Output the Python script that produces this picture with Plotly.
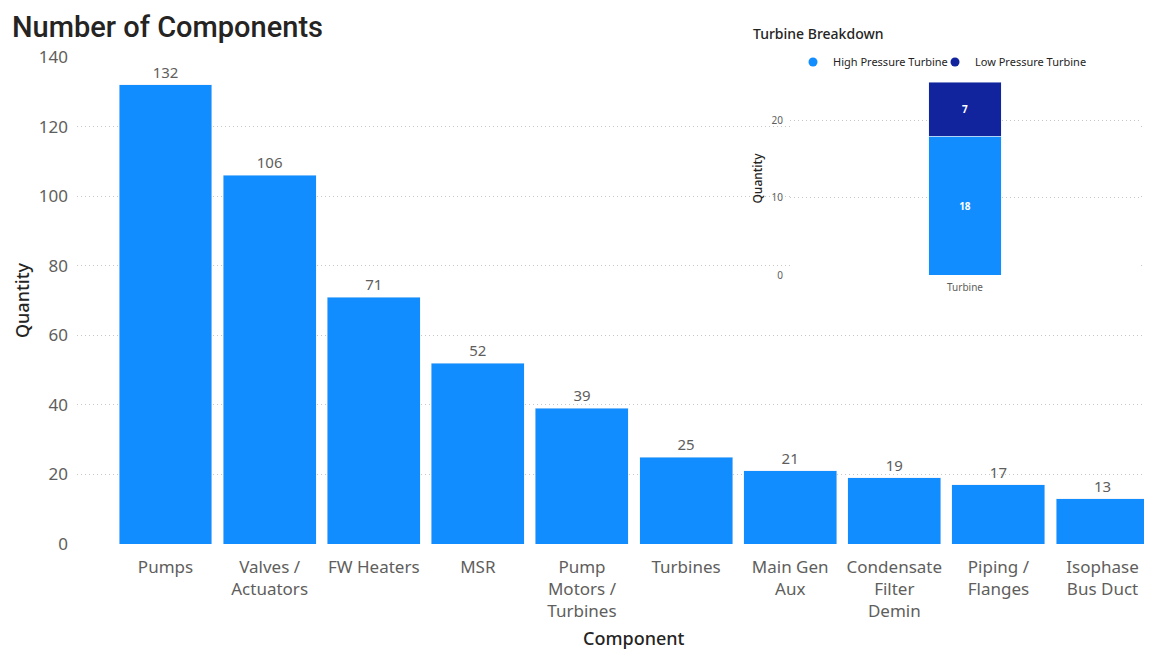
import plotly.graph_objects as go

categories = ["Pumps", "Valves /<br>Actuators", "FW Heaters", "MSR", "Pump<br>Motors /<br>Turbines",
              "Turbines", "Main Gen<br>Aux", "Condensate<br>Filter<br>Demin", "Piping /<br>Flanges", "Isophase<br>Bus Duct"]
quantities = [132, 106, 71, 52, 39, 25, 21, 19, 17, 13]

turbine_cat = ["Turbine"]
hp_turbine = [18]
lp_turbine = [7]

BLUE = "#118DFF"
DARK = "#12239E"
GREY = "#605E5C"
TXT = "#252423"

# page body has an 8px margin; work in reference-screen pixels and convert
OFF = 8
W, H = 1152 - OFF, 649 - OFF
def px_x(p): return (p - OFF) / W
def px_y(p): return (H - (p - OFF)) / H

fig = go.Figure()

fig.add_trace(go.Bar(
    x=categories, y=quantities, marker_color=BLUE, width=0.893,
    text=quantities, textposition="outside", cliponaxis=False,
    textfont=dict(size=15, color=GREY, family="Noto Sans"),
    showlegend=False, xaxis="x", yaxis="y", hoverinfo="skip"))

fig.add_trace(go.Bar(
    x=turbine_cat, y=hp_turbine, marker_color=BLUE, width=0.206, name="High Pressure Turbine",
    text=hp_turbine, textposition="inside", insidetextanchor="middle",
    textfont=dict(size=10, color="white", family="Noto Sans", weight="bold"),
    showlegend=False, xaxis="x2", yaxis="y2"))
fig.add_trace(go.Bar(
    x=turbine_cat, y=lp_turbine, marker_color=DARK, width=0.206, name="Low Pressure Turbine",
    text=lp_turbine, textposition="inside", insidetextanchor="middle",
    textfont=dict(size=10, color="white", family="Noto Sans", weight="bold"),
    showlegend=False, xaxis="x2", yaxis="y2"))

# legend entries with round markers (one legend each, to keep them tight)
for nm, col, lg in [("High Pressure Turbine", BLUE, "legend"), ("Low Pressure Turbine", DARK, "legend2")]:
    fig.add_trace(go.Scatter(x=[None], y=[None], mode="markers", name=nm, legend=lg,
                             marker=dict(color=col, size=9, symbol="circle"),
                             xaxis="x2", yaxis="y2", showlegend=True))

grid = dict(showgrid=True, gridcolor="#C8C6C4", griddash="1px,3px", gridwidth=1)
leg = dict(orientation="h", y=px_y(62), xanchor="left", yanchor="middle",
           font=dict(size=11, color=TXT), bgcolor="rgba(0,0,0,0)", itemwidth=30)

fig.update_layout(
    width=W, height=H,
    margin=dict(l=0, r=0, t=0, b=0),
    paper_bgcolor="white", plot_bgcolor="white",
    barmode="stack",
    font=dict(family="Noto Sans", color=GREY),
    xaxis=dict(domain=[px_x(77), 1.0], range=[-0.85, 9.475], showgrid=False, zeroline=False,
               showline=False, ticks="", tickfont=dict(size=17, color=GREY), ticklabelstandoff=11,
               tickangle=0, automargin=False),
    yaxis=dict(domain=[px_y(544), px_y(57)], range=[0, 140], dtick=20, zeroline=False,
               showline=False, tickfont=dict(size=17, color=GREY), ticklabelstandoff=8,
               title=dict(text="Quantity", font=dict(size=18, color=TXT, weight=500), standoff=4),
               automargin=False, **grid),
    xaxis2=dict(domain=[px_x(790), px_x(1140)], range=[-0.5, 0.5], anchor="y2", showgrid=False,
                zeroline=False, showline=False, ticks="", tickfont=dict(size=10, color=GREY),
                ticklabelstandoff=5, automargin=False),
    yaxis2=dict(domain=[px_y(275), px_y(82)], range=[0, 25], dtick=10, anchor="x2", zeroline=False,
                showline=False, tickfont=dict(size=10, color=GREY), ticklabelstandoff=6,
                title=dict(text="Quantity", font=dict(size=12, color=TXT, weight=500), standoff=6),
                automargin=False, **grid),
    legend=dict(x=px_x(793), **leg),
    legend2=dict(x=px_x(935), **leg),
    annotations=[
        dict(text="Number of Components", x=px_x(10), y=1.0, xref="paper", yref="paper",
             xanchor="left", yanchor="top", showarrow=False,
             font=dict(family="Roboto", size=29, color=TXT, weight=500)),
        dict(text="Turbine Breakdown", x=px_x(751), y=px_y(34), xref="paper", yref="paper",
             xanchor="left", yanchor="middle", showarrow=False,
             font=dict(family="Noto Sans", size=14, color=TXT, weight=500)),
        dict(text="Component", x=px_x(634), y=px_y(638), xref="paper", yref="paper",
             xanchor="center", yanchor="middle", showarrow=False,
             font=dict(family="Noto Sans", size=18, color=TXT, weight=500)),
    ],
    shapes=[dict(type="rect", xref="paper", yref="paper", x0=px_x(745), x1=1.0,
                 y0=px_y(300), y1=px_y(45), fillcolor="white", line=dict(width=0),
                 layer="between")],
)

fig.write_html("out.html")
